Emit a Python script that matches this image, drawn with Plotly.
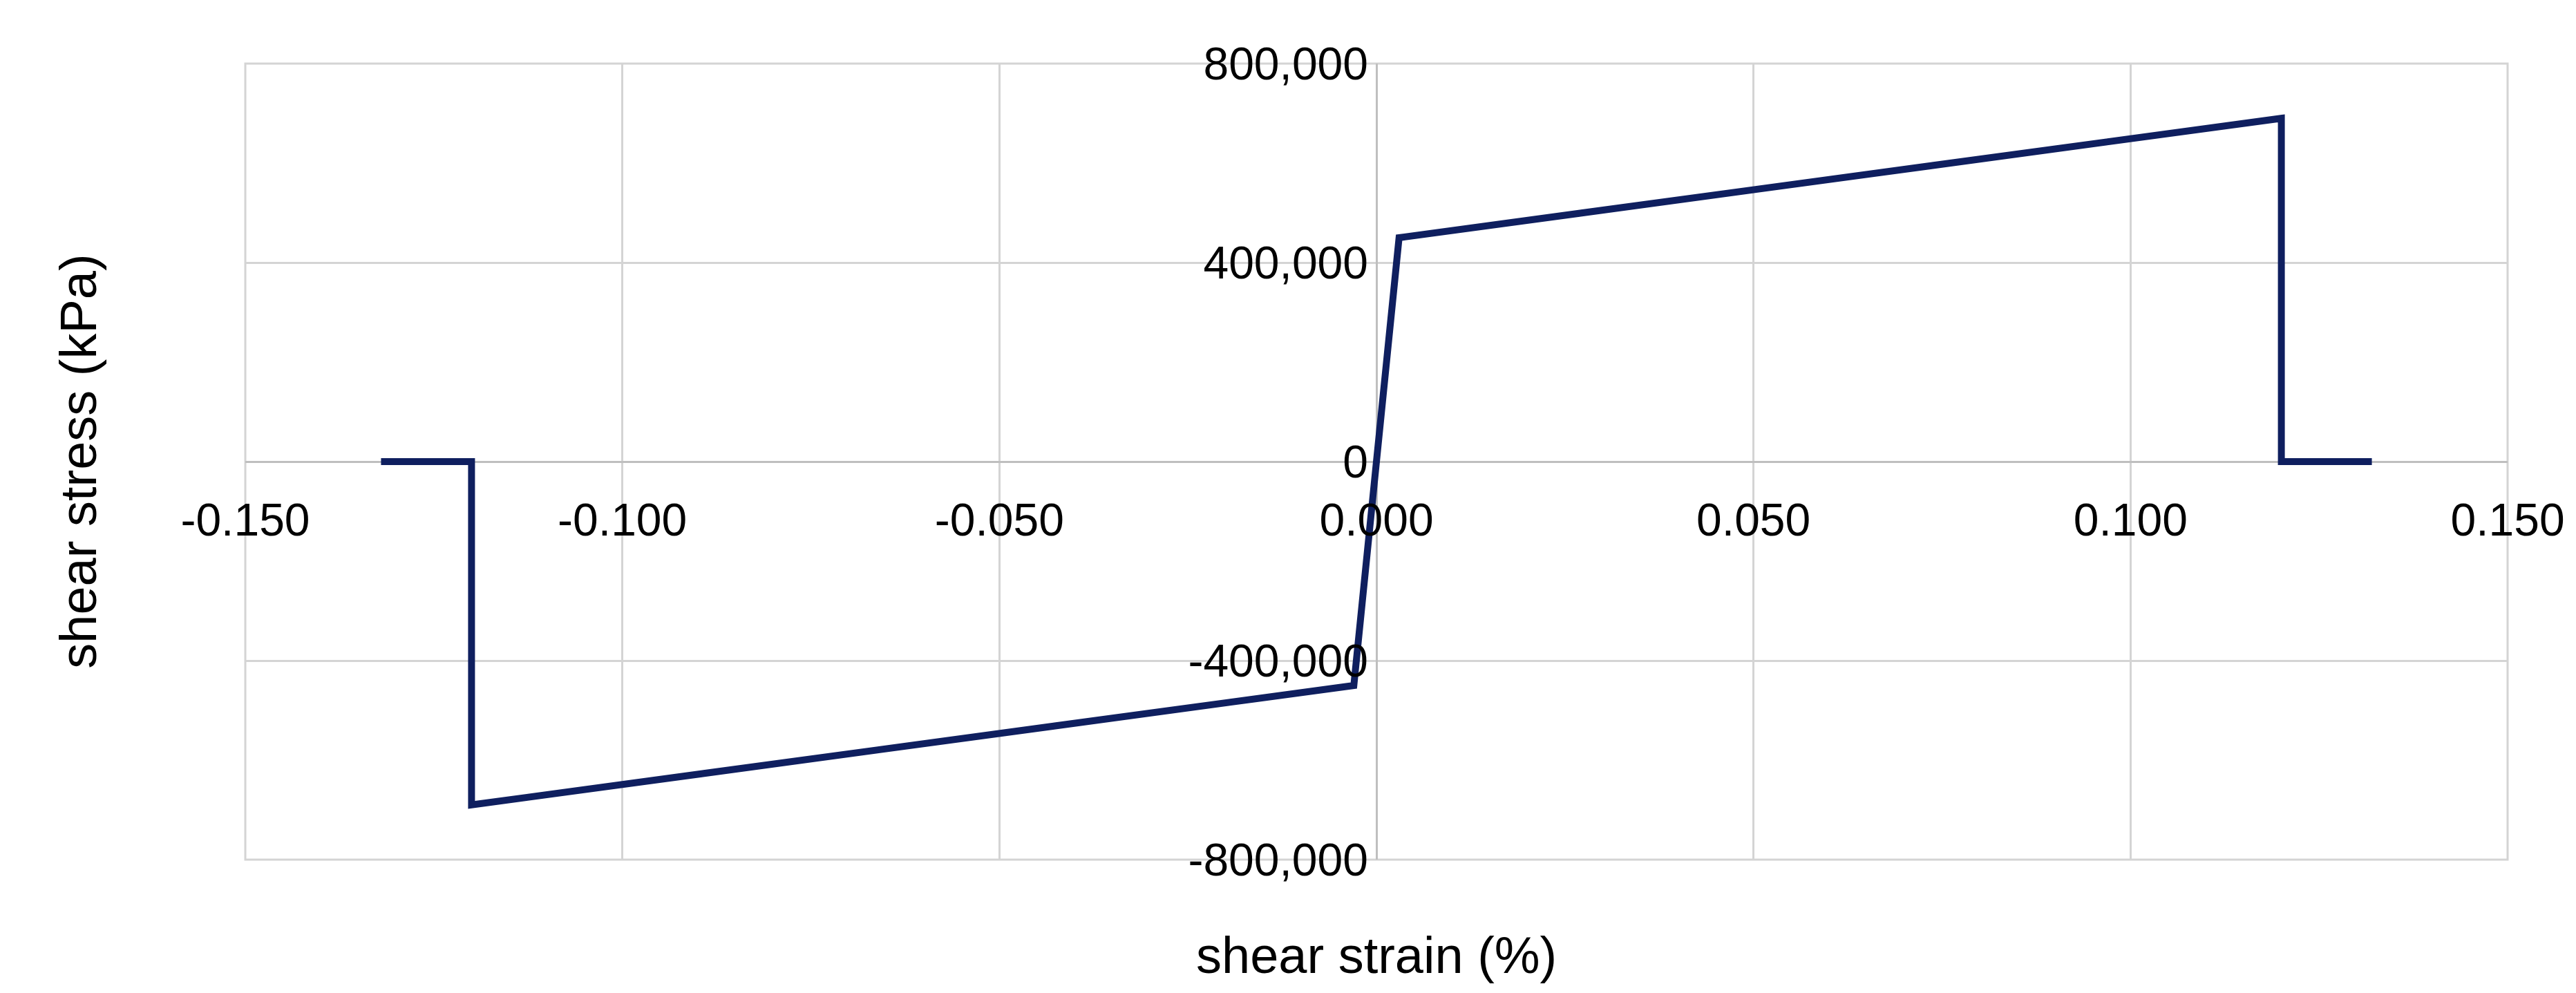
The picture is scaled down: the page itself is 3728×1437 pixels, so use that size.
import plotly.graph_objects as go

strain = [-0.132, -0.120, -0.120, -0.003, 0.003, 0.120, 0.120, 0.132]
stress = [0, 0, -690000, -450000, 450000, 690000, 0, 0]

x_ticks = [-0.15, -0.10, -0.05, 0.0, 0.05, 0.10, 0.15]
x_labels = ["-0.150", "-0.100", "-0.050", "0.000", "0.050", "0.100", "0.150"]
y_ticks = [-800000, -400000, 0, 400000, 800000]
y_labels = ["-800,000", "-400,000", "0", "400,000", "800,000"]

font = dict(family="Liberation Sans, Arial", size=66, color="black")

fig = go.Figure()
fig.add_scatter(x=strain, y=stress, mode="lines",
                line=dict(color="#0f1f5f", width=10), showlegend=False)

fig.update_layout(
    width=3728, height=1437,
    paper_bgcolor="white", plot_bgcolor="white",
    margin=dict(l=347, r=107, t=84, b=201),
    font=font,
    xaxis=dict(range=[-0.15, 0.15], tickvals=x_ticks, ticktext=x_labels,
               showgrid=True, gridcolor="#d4d4d4", gridwidth=3,
               zeroline=True, zerolinecolor="#bfbfbf", zerolinewidth=3,
               anchor="free", position=0.5, side="bottom",
               ticks="", ticklabelstandoff=40, showline=False),
    yaxis=dict(range=[-800000, 800000], tickvals=y_ticks, ticktext=y_labels,
               showgrid=True, gridcolor="#d4d4d4", gridwidth=3,
               zeroline=True, zerolinecolor="#bfbfbf", zerolinewidth=3,
               anchor="free", position=0.5, side="left",
               ticks="", ticklabelstandoff=12, showline=False),
    shapes=[dict(type="rect", xref="paper", yref="paper", x0=0, x1=1, y0=0, y1=1,
                 line=dict(color="#d4d4d4", width=3), layer="below")],
    annotations=[
        dict(text="shear strain (%)", xref="paper", yref="paper", x=0.5, y=-0.12,
             showarrow=False, font=dict(size=74), yanchor="middle"),
        dict(text="shear stress (kPa)", xref="paper", yref="paper", x=-0.074, y=0.5,
             showarrow=False, textangle=-90, font=dict(size=74), xanchor="center"),
    ],
)

fig.write_html("out.html")
